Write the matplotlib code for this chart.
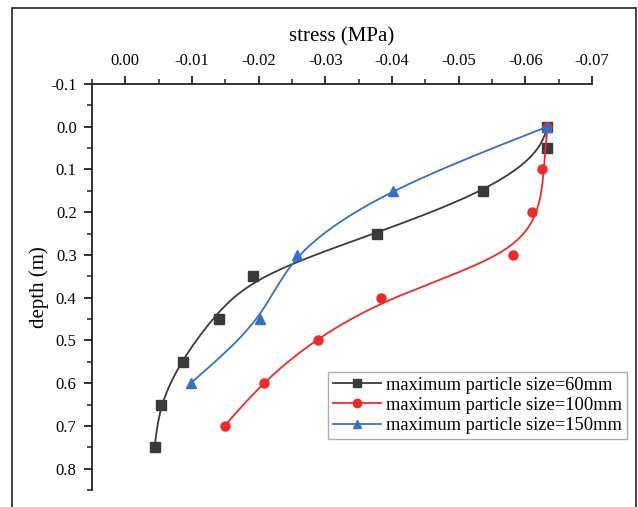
import numpy as np
import matplotlib
matplotlib.use('Agg')
import matplotlib.pyplot as plt
from matplotlib.patches import Rectangle

plt.rcParams['font.family'] = ['Liberation Serif', 'DejaVu Serif']

# depth (m) and stress (MPa)
depth_60 = [0.0, 0.05, 0.15, 0.25, 0.35, 0.45, 0.55, 0.65, 0.75]
stress_60 = [-0.0633, -0.0633, -0.0536, -0.0378, -0.0192, -0.0140, -0.0086, -0.0053, -0.0044]
depth_100 = [0.0, 0.10, 0.20, 0.30, 0.40, 0.50, 0.60, 0.70]
stress_100 = [-0.0633, -0.0625, -0.0610, -0.0582, -0.0384, -0.0289, -0.0208, -0.0149]
depth_150 = [0.0, 0.15, 0.30, 0.45, 0.60]
stress_150 = [-0.0633, -0.0402, -0.0258, -0.0202, -0.0098]

labels = ['maximum particle size=60mm', 'maximum particle size=100mm',
          'maximum particle size=150mm']
colors = ['#3a3a3a', '#f02a2a', '#3470c8']
markers = ['s', 'o', '^']


# smoothing curve x(depth): penalised second differences on a fine grid
def smooth_curve(xs, ys, lam=5e3, h=0.0025):
    ys = np.asarray(ys)
    xs = np.asarray(xs)
    grid = np.arange(ys.min(), ys.max() + h / 2, h)
    n = len(grid)
    idx = np.rint((ys - ys.min()) / h).astype(int)
    W = np.zeros(n)
    z = np.zeros(n)
    W[idx] = 1.0
    W[idx[0]] = 20.0   # keep the ends pinned
    W[idx[-1]] = 20.0
    z[idx] = xs
    D = np.diff(np.eye(n), 2, axis=0)
    A = np.diag(W) + lam * D.T @ D
    return np.linalg.solve(A, W * z), grid


fig = plt.figure(figsize=(6.38, 5.07), dpi=100)
ax = fig.add_axes([92 / 638, 1 - 490 / 507, 500 / 638, 406 / 507])

series = [(stress_60, depth_60), (stress_100, depth_100), (stress_150, depth_150)]
for (sx, sy), lab, col, mk in zip(series, labels, colors, markers):
    cx, cy = smooth_curve(sx, sy)
    ax.plot(cx, cy, color=col, lw=1.3)
    ax.plot(sx, sy, ls='none', marker=mk, color=col, ms=6.5 if mk != '^' else 7.5)
    ax.plot([], [], color=col, lw=1.3, marker=mk, ms=6, label=lab)

ax.set_xlim(0.005, -0.07)
ax.set_ylim(0.85, -0.1)
ax.xaxis.tick_top()
ax.xaxis.set_label_position('top')
xt = np.arange(0, -0.0701, -0.01)
yt = np.arange(-0.1, 0.801, 0.1)
ax.set_xticks(xt)
ax.set_xticks(np.arange(0.005, -0.0701, -0.005), minor=True)
ax.set_xticklabels(['%.2f' % v if abs(v) > 1e-9 else '0.00' for v in xt])
ax.set_yticks(yt)
ax.set_yticks(np.arange(-0.1, 0.851, 0.05), minor=True)
ax.set_yticklabels(['%.1f' % v if abs(v) > 1e-9 else '0.0' for v in yt])
ax.set_xlabel('stress (MPa)', fontsize=15, labelpad=8)
ax.set_ylabel('depth (m)', fontsize=15, labelpad=1)

for s in ['right', 'bottom']:
    ax.spines[s].set_visible(False)
for s in ['left', 'top']:
    ax.spines[s].set_linewidth(1.3)
    ax.spines[s].set_color('#222222')
ax.tick_params(which='major', length=6, width=1.3, labelsize=12, color='#222222')
ax.tick_params(axis='x', which='major', pad=5)
ax.tick_params(axis='y', which='major', pad=5)
ax.tick_params(which='minor', length=3.5, width=1.1, color='#222222')

leg = ax.legend(loc='upper left', bbox_to_anchor=((328 - 92) / 500, (490 - 372) / 406),
                fontsize=13.3, frameon=True, fancybox=False, edgecolor='#999999',
                handlelength=2.6, handletextpad=0.3, borderpad=0.25, labelspacing=0.18,
                borderaxespad=0)
leg.get_frame().set_linewidth(1.0)

# outer frame around the figure
fig.patches.append(Rectangle((12 / 638, -0.05), 624 / 638, 1.05 - 8 / 507,
                             transform=fig.transFigure, fill=False,
                             edgecolor='#222222', lw=1.2))

fig.savefig('out.png', dpi=100)
